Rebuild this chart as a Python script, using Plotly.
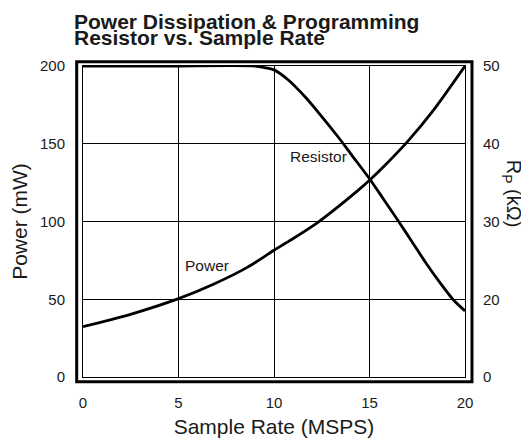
import plotly.graph_objects as go

# data
rate_power = [0, 2.4, 5, 6.8, 8.6, 10, 10.8, 12.3, 14.4, 15, 15.8, 17, 18.3, 20]
power_mw = [32.4, 40.0, 50.4, 59.5, 70.5, 81.5, 87.5, 99.5, 120.0, 126.5, 136.0, 151.5, 170.8, 200]

rate_res = [0, 4.5, 9.0, 9.5, 10, 10.75, 11.6, 12.5, 13.35, 14.05, 15, 15.7, 16.5, 17.2, 18, 18.7, 19.4, 20]
res_kohm = [50, 50, 50, 49.8, 49.5, 48.2, 46.1, 43.5, 40.9, 38.6, 35.5, 33.0, 30.1, 27.5, 24.5, 22.1, 19.9, 18.5]

x_ticks = [0, 5, 10, 15, 20]
power_ticks = [0, 50, 100, 150, 200]
res_ticks = [10, 20, 30, 40, 50]
res_ticktext = ["0", "20", "30", "40", "50"]

FONT = "Liberation Sans, Arial, Helvetica, sans-serif"
INK = "#000000"
TXT = "#1a1a1a"

fig = go.Figure()
fig.add_trace(go.Scatter(
    x=rate_power, y=power_mw, mode="lines",
    line=dict(color=INK, width=2.8, shape="spline", smoothing=0.8),
    name="Power", yaxis="y",
))
fig.add_trace(go.Scatter(
    x=rate_res, y=res_kohm, mode="lines",
    line=dict(color=INK, width=2.8, shape="spline", smoothing=0.8),
    name="Resistor", yaxis="y2",
))

axis_common = dict(
    showline=True, linecolor=INK, linewidth=1, mirror=True,
    ticks="", zeroline=False, automargin=False,
    tickfont=dict(family=FONT, size=15, color=TXT),
)

# page body has an 8px margin, so the figure is 8px smaller than the window
fig.update_layout(
    width=521, height=430,
    paper_bgcolor="white", plot_bgcolor="white",
    margin=dict(l=75, r=64, t=58, b=61),
    showlegend=False,
    font=dict(family=FONT, color=TXT),
    xaxis=dict(
        **axis_common, range=[0, 20], tickvals=x_ticks,
        showgrid=True, gridcolor=INK, gridwidth=1,
        ticklabelstandoff=12,
        title=dict(text="Sample Rate (MSPS)", font=dict(family=FONT, size=21, color=TXT), standoff=9),
    ),
    yaxis=dict(
        **axis_common, range=[0, 200], tickvals=power_ticks,
        showgrid=True, gridcolor=INK, gridwidth=1,
        ticklabelstandoff=14,
        title=dict(text="Power (mW)", font=dict(family=FONT, size=21, color=TXT), standoff=6),
    ),
    yaxis2=dict(
        **axis_common, overlaying="y", side="right", range=[10, 50],
        tickvals=res_ticks, ticktext=res_ticktext, showgrid=False,
        ticklabelstandoff=14,
    ),
    shapes=[dict(
        type="rect", xref="paper", yref="paper",
        x0=-0.0165, x1=1.0183, y0=-0.0151, y1=1.0138,
        line=dict(color=INK, width=3), layer="above",
    )],
    annotations=[
        dict(text="<b>Power Dissipation & Programming</b>", xref="paper", yref="paper",
             x=-0.028, y=1.142, xanchor="left", yanchor="middle", showarrow=False,
             font=dict(family=FONT, size=21, color=TXT)),
        dict(text="<b>Resistor vs. Sample Rate</b>", xref="paper", yref="paper",
             x=-0.028, y=1.092, xanchor="left", yanchor="middle", showarrow=False,
             font=dict(family=FONT, size=21, color=TXT)),
        dict(text="R<sub>P</sub> (kΩ)", xref="paper", yref="paper",
             x=1.124, y=0.588, xanchor="center", yanchor="middle", textangle=90,
             showarrow=False, font=dict(family=FONT, size=20, color=TXT)),
        dict(text="Resistor", x=10.73, y=141.5, xref="x", yref="y",
             xanchor="left", yanchor="middle", showarrow=False,
             font=dict(family=FONT, size=15.5, color=TXT)),
        dict(text="Power", x=5.26, y=71.4, xref="x", yref="y",
             xanchor="left", yanchor="middle", showarrow=False,
             font=dict(family=FONT, size=15.5, color=TXT)),
    ],
)

fig.write_html("out.html")
